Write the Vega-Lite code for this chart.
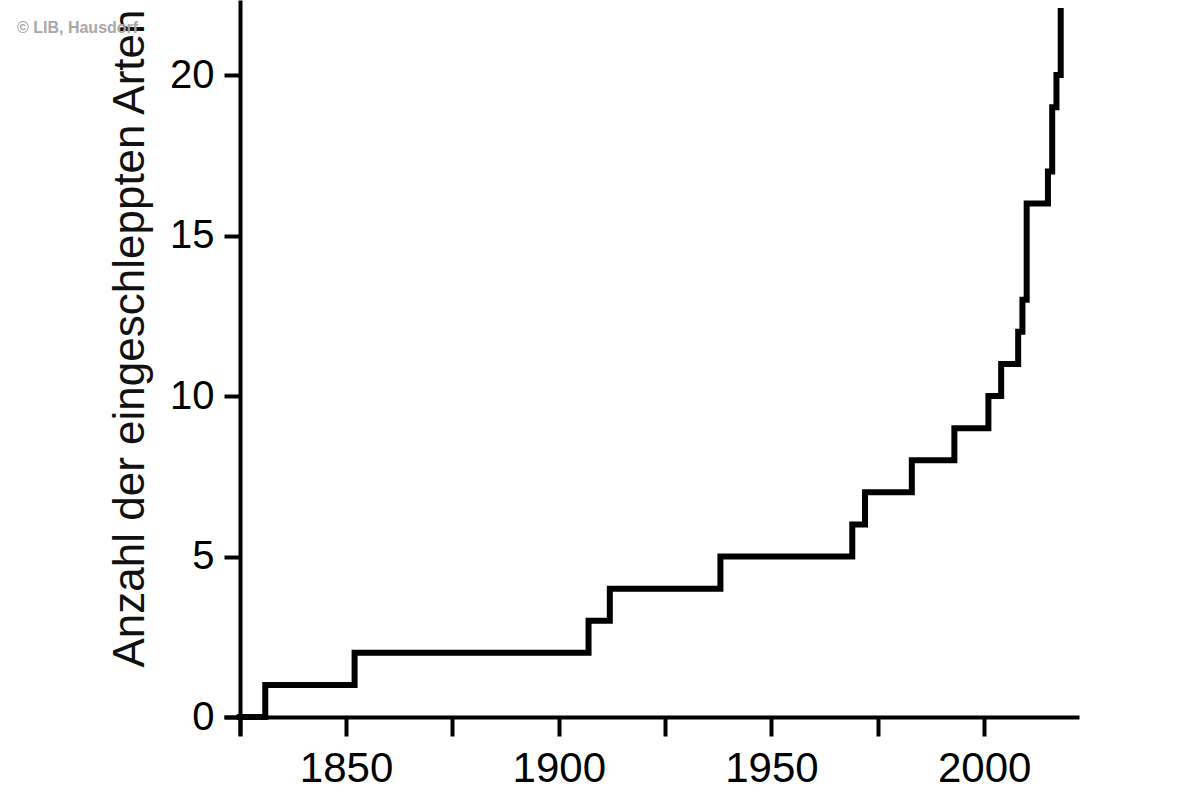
{
  "$schema": "https://vega.github.io/schema/vega-lite/v6.json",
  "autosize": {"type": "none"},
  "width": 855,
  "height": 735,
  "padding": {"left": 224, "top": 0, "right": 117, "bottom": 65},
  "background": "white",
  "title": {
    "text": "© LIB, Hausdorf",
    "anchor": "start",
    "frame": "group",
    "orient": "top",
    "baseline": "top",
    "dx": -207,
    "dy": 41,
    "fontSize": 16,
    "font": "Liberation Sans",
    "fontWeight": "bold",
    "color": "#a8a8a8"
  },
  "data": {
    "values": [
      {"year": 1825, "count": 0},
      {"year": 1831, "count": 1},
      {"year": 1852, "count": 2},
      {"year": 1907, "count": 3},
      {"year": 1912, "count": 4},
      {"year": 1938, "count": 5},
      {"year": 1969, "count": 6},
      {"year": 1972, "count": 7},
      {"year": 1983, "count": 8},
      {"year": 1993, "count": 9},
      {"year": 2001, "count": 10},
      {"year": 2004, "count": 11},
      {"year": 2008, "count": 12},
      {"year": 2009, "count": 13},
      {"year": 2010, "count": 16},
      {"year": 2015, "count": 17},
      {"year": 2016, "count": 19},
      {"year": 2017, "count": 20},
      {"year": 2018, "count": 22}
    ]
  },
  "mark": {
    "type": "line",
    "interpolate": "step-after",
    "color": "black",
    "strokeWidth": 6,
    "strokeCap": "square",
    "strokeJoin": "miter",
    "clip": false
  },
  "encoding": {
    "x": {
      "field": "year",
      "type": "quantitative",
      "scale": {"domain": [1821.3, 2022.3], "nice": false, "zero": false},
      "axis": {
        "title": null,
        "offset": -18,
        "values": [1825, 1850, 1875, 1900, 1925, 1950, 1975, 2000],
        "labelExpr": "datum.value % 50 == 0 ? datum.label : ''",
        "format": "d",
        "grid": false,
        "domainColor": "black",
        "domainWidth": 4,
        "tickColor": "black",
        "tickWidth": 4,
        "tickSize": 19,
        "labelFont": "Liberation Sans",
        "labelFontSize": 42,
        "labelColor": "black",
        "labelPadding": 12,
        "labelFlush": false,
        "labelOverlap": false
      }
    },
    "y": {
      "field": "count",
      "type": "quantitative",
      "scale": {"domain": [-0.56, 22.34], "nice": false, "zero": false},
      "axis": {
        "title": "Anzahl der eingeschleppten Arten",
        "offset": -16,
        "values": [0, 5, 10, 15, 20],
        "grid": false,
        "domainColor": "black",
        "domainWidth": 4,
        "tickColor": "black",
        "tickWidth": 4,
        "tickSize": 16,
        "labelFont": "Liberation Sans",
        "labelFontSize": 40,
        "labelColor": "black",
        "labelPadding": 10,
        "labelFlush": false,
        "labelOverlap": false,
        "titleFont": "Liberation Sans",
        "titleFontSize": 44,
        "titleFontWeight": "normal",
        "titleColor": "#111",
        "titleAngle": 270,
        "titleAlign": "center",
        "titleBaseline": "alphabetic",
        "titleX": -97,
        "titleY": 338
      }
    }
  },
  "config": {"view": {"stroke": null}}
}
